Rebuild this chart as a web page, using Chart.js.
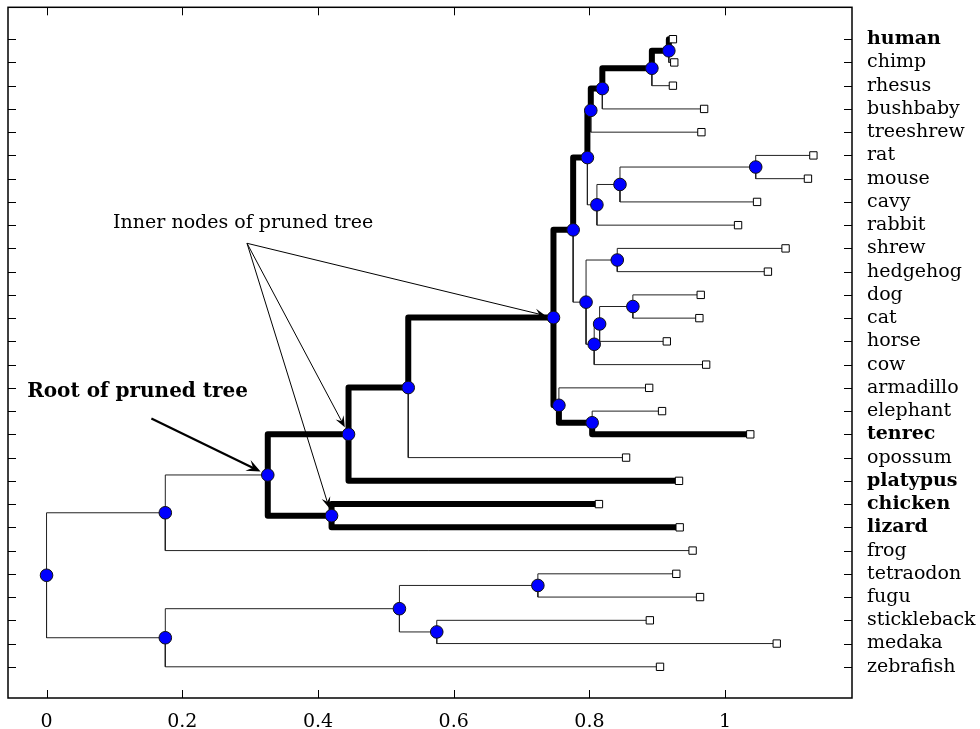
<!DOCTYPE html>
<html>
<head>
<meta charset="utf-8">
<script src="https://cdn.jsdelivr.net/npm/chart.js@4.4.0/dist/chart.umd.min.js"></script>
<style>
  html, body { margin: 0; padding: 0; background: #fff; }
</style>
</head>
<body>
<canvas id="tree" width="980" height="729"></canvas>
<script>
// leaves, top to bottom, with the depth of each tip
const leaves = ['human', 'chimp', 'rhesus', 'bushbaby', 'treeshrew', 'rat', 'mouse', 'cavy', 'rabbit',
  'shrew', 'hedgehog', 'dog', 'cat', 'horse', 'cow', 'armadillo', 'elephant', 'tenrec', 'opossum',
  'platypus', 'chicken', 'lizard', 'frog', 'tetraodon', 'fugu', 'stickleback', 'medaka', 'zebrafish'];
const leafX = [0.923, 0.925, 0.923, 0.969, 0.965, 1.130, 1.122, 1.047, 1.019,
  1.089, 1.063, 0.964, 0.962, 0.914, 0.972, 0.888, 0.907, 1.037, 0.854,
  0.932, 0.814, 0.933, 0.952, 0.928, 0.963, 0.889, 1.076, 0.904];
const boldLeaves = ['human', 'tenrec', 'platypus', 'chicken', 'lizard'];

// inner nodes: depth and the two children
const nodeNames = ['hominini', 'catarrhini', 'primates', 'euarchonta', 'murinae', 'rodentia', 'glires',
  'euarchontoglires', 'eulipotyphla', 'carnivora', 'zooamata', 'fereuungulata', 'laurasiatheria',
  'boreoeutheria', 'afrotheria', 'atlantogenata', 'eutheria', 'theria', 'mammalia', 'sauropsida',
  'amniota', 'tetrapoda', 'tetraodontidae', 'smegmamorpha', 'percomorpha', 'actinopterygii', 'vertebrata'];
const nodeX = [0.917, 0.892, 0.819, 0.802, 1.045, 0.845, 0.811,
  0.797, 0.841, 0.864, 0.815, 0.807, 0.795,
  0.776, 0.804, 0.755, 0.747, 0.533, 0.445, 0.420,
  0.326, 0.175, 0.724, 0.575, 0.520, 0.175, 0.0];
const nodeKids = [['human', 'chimp'], ['hominini', 'rhesus'], ['catarrhini', 'bushbaby'], ['primates', 'treeshrew'],
  ['rat', 'mouse'], ['murinae', 'cavy'], ['rodentia', 'rabbit'], ['euarchonta', 'glires'],
  ['shrew', 'hedgehog'], ['dog', 'cat'], ['carnivora', 'horse'], ['zooamata', 'cow'],
  ['eulipotyphla', 'fereuungulata'], ['euarchontoglires', 'laurasiatheria'], ['elephant', 'tenrec'],
  ['armadillo', 'afrotheria'], ['boreoeutheria', 'atlantogenata'], ['eutheria', 'opossum'],
  ['theria', 'platypus'], ['chicken', 'lizard'], ['mammalia', 'sauropsida'], ['amniota', 'frog'],
  ['tetraodon', 'fugu'], ['stickleback', 'medaka'], ['tetraodontidae', 'smegmamorpha'],
  ['percomorpha', 'zebrafish'], ['tetrapoda', 'actinopterygii']];

const prunedRoot = 'amniota';
const prunedInner = ['eutheria', 'mammalia', 'sauropsida'];

const xTicks = [0, 0.2, 0.4, 0.6, 0.8, 1];

// layout of the dendrogram
let pos = {};
leaves.forEach((n, i) => pos[n] = { x: leafX[i], y: leaves.length - i });

function place(name) {
  if (pos[name]) return pos[name];
  let k = nodeNames.indexOf(name);
  let a = place(nodeKids[k][0]);
  let b = place(nodeKids[k][1]);
  pos[name] = { x: nodeX[k], y: (a.y + b.y) / 2 };
  return pos[name];
}
nodeNames.forEach(place);

function kidsOf(name) {
  let k = nodeNames.indexOf(name);
  return k < 0 ? [] : nodeKids[k];
}
function hasBold(name) {
  if (boldLeaves.includes(name)) return true;
  return kidsOf(name).some(hasBold);
}
let below = new Set();
function mark(name) { below.add(name); kidsOf(name).forEach(mark); }
mark(prunedRoot);

let thin = [], thick = [];
nodeNames.forEach((p, k) => {
  nodeKids[k].forEach(c => {
    let seg = [{ x: pos[p].x, y: pos[p].y }, { x: pos[p].x, y: pos[c].y }, { x: pos[c].x, y: pos[c].y }, { x: pos[c].x, y: null }];
    if (below.has(p) && hasBold(c)) thick.push(...seg); else thin.push(...seg);
  });
});

const serif = '"DejaVu Serif", serif';

const decor = {
  id: 'decor',
  afterDatasetsDraw(chart) {
    let ctx = chart.ctx, xs = chart.scales.x, ys = chart.scales.y;
    ctx.save();
    ctx.fillStyle = '#000';
    ctx.strokeStyle = '#000';

    function arrow(fx, fy, node, width, len, half) {
      let tx = xs.getPixelForValue(pos[node].x), ty = ys.getPixelForValue(pos[node].y);
      let dx = tx - fx, dy = ty - fy, d = Math.hypot(dx, dy);
      let ux = dx / d, uy = dy / d;
      let ex = tx - ux * 8, ey = ty - uy * 8;
      ctx.lineWidth = width;
      ctx.beginPath();
      ctx.moveTo(fx, fy);
      ctx.lineTo(ex - ux * len * 0.5, ey - uy * len * 0.5);
      ctx.stroke();
      ctx.beginPath();
      ctx.moveTo(ex, ey);
      ctx.lineTo(ex - ux * len - uy * half, ey - uy * len + ux * half);
      ctx.lineTo(ex - ux * len * 0.6, ey - uy * len * 0.6);
      ctx.lineTo(ex - ux * len + uy * half, ey - uy * len - ux * half);
      ctx.closePath();
      ctx.fill();
    }

    // inner nodes label
    ctx.font = '19px ' + serif;
    ctx.textBaseline = 'alphabetic';
    ctx.fillText('Inner nodes of pruned tree', xs.getPixelForValue(0.098), ys.getPixelForValue(19.87));
    let fx = xs.getPixelForValue(0.2954), fy = ys.getPixelForValue(19.22);
    prunedInner.forEach(n => arrow(fx, fy, n, 1, 11, 4.5));

    // root label
    ctx.font = 'bold 20px ' + serif;
    ctx.fillText('Root of pruned tree', xs.getPixelForValue(-0.0286), ys.getPixelForValue(12.61));
    arrow(xs.getPixelForValue(0.1545), ys.getPixelForValue(11.68), prunedRoot, 2.2, 14, 6);
    ctx.restore();
  },
  afterDraw(chart) {
    let ctx = chart.ctx, a = chart.chartArea, xs = chart.scales.x, ys = chart.scales.y;
    ctx.save();
    ctx.strokeStyle = '#000';
    ctx.lineWidth = 1;
    ctx.beginPath();
    xTicks.forEach(v => {
      let px = Math.round(xs.getPixelForValue(v)) + 0.5;
      ctx.moveTo(px, a.bottom); ctx.lineTo(px, a.bottom - 8);
      ctx.moveTo(px, a.top); ctx.lineTo(px, a.top + 8);
    });
    leaves.forEach((n, i) => {
      let py = Math.round(ys.getPixelForValue(leaves.length - i)) + 0.5;
      ctx.moveTo(a.left, py); ctx.lineTo(a.left + 8, py);
      ctx.moveTo(a.right, py); ctx.lineTo(a.right - 8, py);
    });
    ctx.stroke();
    ctx.lineWidth = 1.5;
    ctx.strokeRect(a.left, a.top, a.right - a.left, a.bottom - a.top);
    ctx.restore();
  }
};

function leafFont(c) {
  let name = c.tick ? leaves[leaves.length - c.tick.value] : '';
  return { family: serif, size: 19, weight: boldLeaves.includes(name) ? 'bold' : 'normal' };
}

new Chart(document.getElementById('tree'), {
  type: 'line',
  data: {
    datasets: [
      {
        label: 'leaves',
        data: leaves.map(n => pos[n]),
        showLine: false,
        pointStyle: 'rect',
        pointRadius: 5.2,
        backgroundColor: '#fff',
        borderColor: '#000',
        borderWidth: 1,
        order: 0
      },
      {
        label: 'nodes',
        data: nodeNames.map(n => pos[n]),
        showLine: false,
        pointRadius: 6.3,
        backgroundColor: '#0000ff',
        borderColor: '#111',
        borderWidth: 1,
        order: 1
      },
      {
        label: 'pruned',
        data: thick,
        borderColor: '#000',
        borderWidth: 6,
        borderJoinStyle: 'round',
        pointRadius: 0,
        spanGaps: false,
        tension: 0,
        order: 2
      },
      {
        label: 'tree',
        data: thin,
        borderColor: '#222',
        borderWidth: 1,
        pointRadius: 0,
        spanGaps: false,
        tension: 0,
        order: 3
      }
    ]
  },
  options: {
    responsive: false,
    animation: false,
    events: [],
    layout: { padding: { left: 8, top: 5, right: 0, bottom: 0 } },
    plugins: { legend: { display: false }, tooltip: { enabled: false } },
    scales: {
      x: {
        type: 'linear',
        min: -0.0568,
        max: 1.1869,
        grid: { display: false },
        border: { display: false },
        afterBuildTicks: s => { s.ticks = xTicks.map(v => ({ value: v })); },
        afterFit: s => { s.height = 31; s.paddingLeft = 0; s.paddingRight = 0; },
        ticks: {
          autoSkip: false,
          maxRotation: 0,
          padding: 5,
          color: '#000',
          font: { family: serif, size: 19 },
          callback: v => String(v)
        }
      },
      y: {
        type: 'linear',
        position: 'right',
        min: -0.342,
        max: 29.372,
        grid: { display: false, drawTicks: false },
        border: { display: false },
        afterBuildTicks: s => { s.ticks = leaves.map((n, i) => ({ value: leaves.length - i })); },
        afterFit: s => { s.width = 128; s.paddingTop = 0; s.paddingBottom = 0; },
        ticks: {
          autoSkip: false,
          padding: 15,
          color: '#000',
          font: leafFont,
          callback: v => leaves[leaves.length - v]
        }
      }
    }
  },
  plugins: [decor]
});
</script>
</body>
</html>
